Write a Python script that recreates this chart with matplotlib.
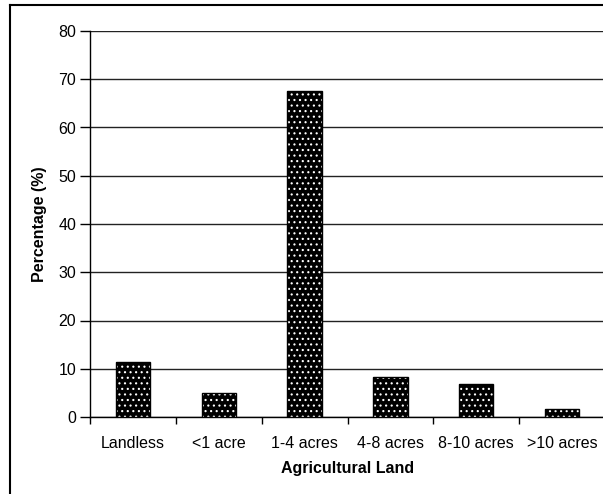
import numpy as np
import matplotlib
matplotlib.use("Agg")
from matplotlib import pyplot as plt
from matplotlib.lines import Line2D

plt.rcParams['font.family'] = ['Liberation Sans', 'DejaVu Sans']
plt.rcParams['hatch.linewidth'] = 0.8

categories = ['Landless', '<1 acre', '1-4 acres', '4-8 acres', '8-10 acres', '>10 acres']
percentages = [11.5, 4.9, 67.5, 8.2, 6.8, 1.6]
yticks = [0, 10, 20, 30, 40, 50, 60, 70, 80]

fig = plt.figure(figsize=(6.03, 4.94), dpi=100)
ax = fig.add_axes([90 / 603, 77 / 494, 515 / 603, 386 / 494])

x = np.arange(len(categories))
# dotted fill: black face with white dot hatch, then a black outline on top
ax.bar(x, percentages, width=0.4, color='black', edgecolor='white',
       hatch='...', linewidth=0, zorder=3)
ax.bar(x, percentages, width=0.4, fill=False, edgecolor='black',
       linewidth=1.0, zorder=4)

ax.set_xlim(-0.5, len(categories) - 0.5)
ax.set_ylim(0, 80)
ax.set_yticks(yticks)
ax.set_yticklabels([str(v) for v in yticks], fontsize=11.5)
ax.set_xticks(x)
ax.set_xticklabels(categories, fontsize=11.5)
ax.set_xticks(np.arange(len(categories) + 1) - 0.5, minor=True)
ax.tick_params(axis='x', which='major', length=0, pad=14)
ax.tick_params(axis='x', which='minor', length=5, width=1, color='black')
ax.tick_params(axis='y', length=7, width=1, pad=3)

ax.yaxis.grid(True, color='#222222', linewidth=1.0, zorder=0)
ax.set_axisbelow(True)
for side in ['top', 'right']:
    ax.spines[side].set_visible(False)
ax.spines['left'].set_linewidth(1.0)
ax.spines['bottom'].set_linewidth(1.0)

ax.set_xlabel('Agricultural Land', fontsize=11.5, fontweight='bold', labelpad=7)
ax.set_ylabel('Percentage (%)', fontsize=11.5, fontweight='bold', labelpad=8)

# outer frame, left and top edges
fig.add_artist(Line2D([10 / 603, 10 / 603], [0, 1 - 5 / 494], color='black',
                      linewidth=1.5, transform=fig.transFigure))
fig.add_artist(Line2D([10 / 603, 1], [1 - 5 / 494, 1 - 5 / 494], color='black',
                      linewidth=1.5, transform=fig.transFigure))

fig.savefig('out.png', dpi=100)
